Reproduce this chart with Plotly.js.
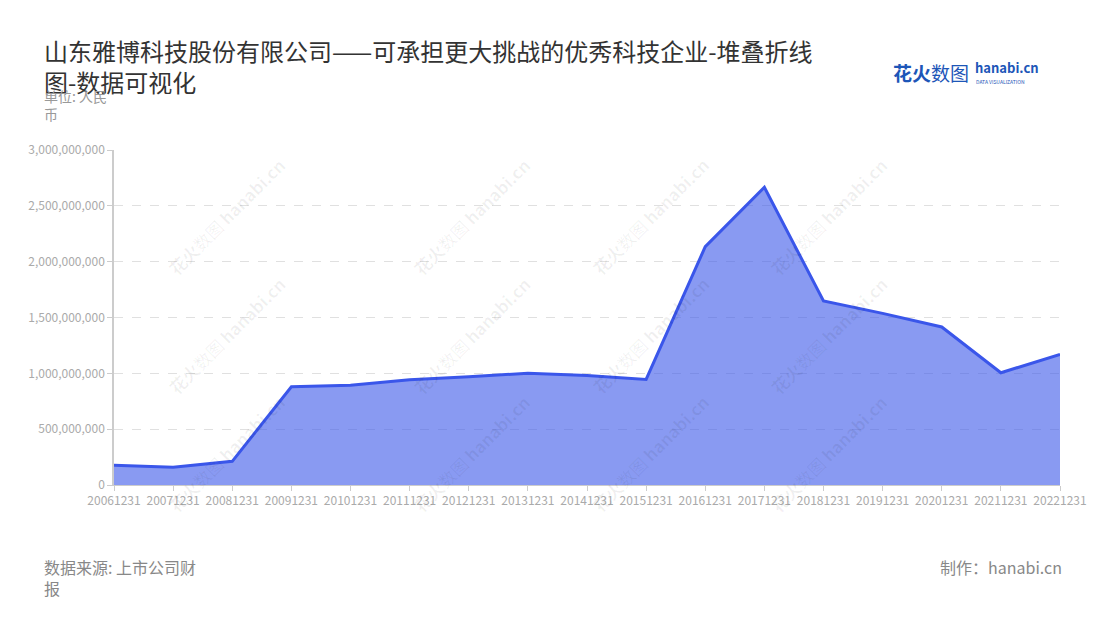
<!DOCTYPE html>
<html>
<head>
<meta charset="utf-8">
<script src="https://cdn.plot.ly/plotly-3.0.1.min.js"></script>
<style>
  body { margin: 0; background: #fff; }
  #chart { width: 1100px; height: 620px; }
</style>
</head>
<body>
<div id="chart"></div>
<script>
// report dates and values (RMB)
var dates = ['20061231', '20071231', '20081231', '20091231', '20101231', '20111231',
  '20121231', '20131231', '20141231', '20151231', '20161231', '20171231',
  '20181231', '20191231', '20201231', '20211231', '20221231']
var values = [176000000, 158000000, 212000000, 880000000, 893000000, 943000000,
  970000000, 1000000000, 980000000, 945000000, 2134000000, 2666000000,
  1648000000, 1537000000, 1415000000, 1005000000, 1170000000]

var yTicks = [0, 500000000, 1000000000, 1500000000, 2000000000, 2500000000, 3000000000]

var font = '"Noto Sans CJK SC", "Noto Sans", sans-serif'

var trace = {
  x: dates,
  y: values,
  type: 'scatter',
  mode: 'lines',
  fill: 'tozeroy',
  fillcolor: 'rgba(58,86,234,0.6)',
  line: { color: '#3a56ea', width: 3 },
  hoverinfo: 'x+y'
}

function px(x) { return (x - 114) / 946 }
function py(y) { return (485 - y) / 335 }

// faint watermark grid like the original
var marks = []
var wmX = [160, 405, 650, 895]
var wmY = [150, 335, 520]
for (var i = 0; i < wmX.length; i++) {
  for (var j = 0; j < wmY.length; j++) {
    marks.push({
      xref: 'paper', yref: 'paper',
      x: px(wmX[i]), y: py(wmY[j]),
      text: '<b>花火</b>数图 <b>hanabi.cn</b>', showarrow: false, textangle: -45,
      font: { family: font, size: 17, color: 'rgba(0,0,0,0.06)' }
    })
  }
}

var notes = marks.concat([
  {
    xref: 'paper', yref: 'paper', x: px(42), y: py(84),
    xanchor: 'left', yanchor: 'top', align: 'left',
    text: '单位: 人民<br>币', showarrow: false,
    font: { family: font, size: 14, color: '#999' }
  },
  {
    xref: 'paper', yref: 'paper', x: px(42), y: py(553),
    xanchor: 'left', yanchor: 'top', align: 'left',
    text: '数据来源: 上市公司财<br>报', showarrow: false,
    font: { family: font, size: 16, color: '#888' }
  },
  {
    xref: 'paper', yref: 'paper', x: px(1064), y: py(553),
    xanchor: 'right', yanchor: 'top', align: 'right',
    text: '制作：hanabi.cn', showarrow: false,
    font: { family: font, size: 16, color: '#888' }
  },
  {
    xref: 'paper', yref: 'paper', x: px(891), y: py(72),
    xanchor: 'left', yanchor: 'middle',
    text: '<b>花火</b>数图', showarrow: false,
    font: { family: font, size: 19, color: '#1d56b8' }
  },
  {
    xref: 'paper', yref: 'paper', x: px(973), y: py(67),
    xanchor: 'left', yanchor: 'middle',
    text: '<b>hanabi.cn</b>', showarrow: false,
    font: { family: font, size: 13, color: '#1d56b8' }
  },
  {
    xref: 'paper', yref: 'paper', x: px(974), y: py(81),
    xanchor: 'left', yanchor: 'middle',
    text: 'DATA VISUALIZATION', showarrow: false,
    font: { family: font, size: 5, color: '#1d56b8' }
  }
])

var layout = {
  width: 1100,
  height: 620,
  margin: { l: 114, r: 40, t: 150, b: 135 },
  paper_bgcolor: '#fff',
  plot_bgcolor: '#fff',
  showlegend: false,
  font: { family: font, color: '#999' },
  title: {
    text: '山东雅博科技股份有限公司——可承担更大挑战的优秀科技企业-堆叠折线<br>图-数据可视化',
    x: 44 / 1100, xanchor: 'left',
    xref: 'container', yref: 'container',
    y: 1 - 61 / 620, yanchor: 'top',
    font: { family: font, size: 24, color: '#333' }
  },
  xaxis: {
    type: 'category',
    range: [0, dates.length - 1],
    showgrid: false,
    showline: true,
    linecolor: '#ccc',
    ticks: 'outside',
    ticklen: 5,
    tickcolor: '#ccc',
    tickangle: 0,
    tickfont: { family: font, size: 12, color: '#aaa' }
  },
  yaxis: {
    range: [0, 3000000000],
    tickvals: yTicks,
    tickformat: ',d',
    showline: true,
    linecolor: '#ccc',
    linewidth: 1.5,
    ticks: 'outside',
    ticklen: 5,
    tickcolor: '#ccc',
    gridcolor: '#e0e0e0',
    griddash: 'dash',
    zeroline: false,
    tickfont: { family: font, size: 12, color: '#aaa' }
  },
  annotations: notes
}

Plotly.newPlot('chart', [trace], layout, { displayModeBar: false })
</script>
</body>
</html>
